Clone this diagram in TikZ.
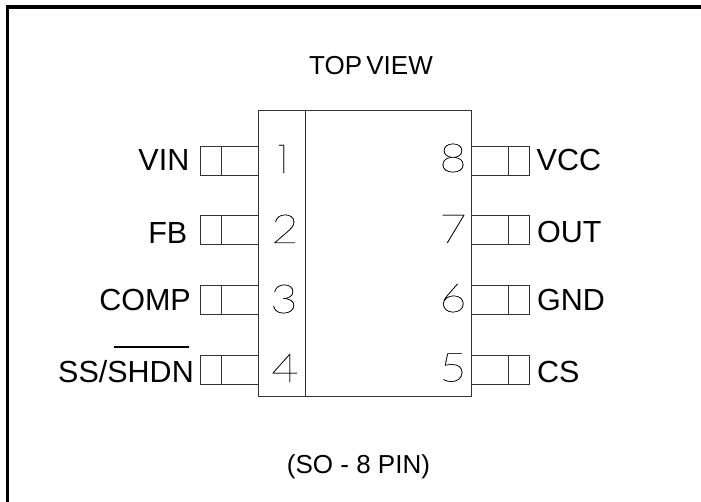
\documentclass[tikz,border=0pt]{standalone}
\usepackage{fontspec}
\setmainfont{Liberation Sans}
\newfontfamily\thinfont[FakeStretch=1.18,FakeBold=0.25]{Lato Hairline}
\newfontfamily\onefont[FakeBold=0.1]{Poppins Thin}
\tikzset{
  frameline/.style={line width=3.4pt,black},
  pkgline/.style={line width=0.8pt,black!80},
  pinline/.style={line width=0.8pt,black!80},
  barline/.style={line width=2.2pt,black},
  lbl/.style={inner sep=0pt,font=\fontsize{30.5pt}{32pt}\selectfont,text=black,anchor=base},
  lblr/.style={lbl,anchor=base east},
  lbll/.style={lbl,anchor=base west},
  num/.style={inner sep=0pt,anchor=base,font=\fontsize{40pt}{40pt}\thinfont},
  caption/.style={inner sep=0pt,anchor=base,font=\fontsize{26pt}{28pt}\selectfont}
}
\begin{document}
\begin{tikzpicture}[x=1pt,y=-1pt]
\useasboundingbox (0,0) rectangle (701,502);
\fill[white] (0,0) rectangle (701,502);
\draw[frameline] (7.7,502) -- (7.7,7) -- (701,7);
\node[caption] (top) at (371,75) {TOP\kern-3pt\ VIEW};
\node[caption] (bot) at (358.5,473) {(SO - 8 PIN)};
\draw[pkgline] (258.3,110) rectangle (471.7,396);
\draw[pkgline] (305,110) -- (305,396);
\foreach \y in {146,215.5,285.3,355}{
  \draw[pinline] (258.3,\y) -- (200.5,\y) -- (200.5,\y+29.3) -- (258.3,\y+29.3);
  \draw[pinline] (221.7,\y) -- (221.7,\y+29.3);
  \draw[pinline] (471.7,\y) -- (529.3,\y) -- (529.3,\y+29.3) -- (471.7,\y+29.3);
  \draw[pinline] (508.3,\y) -- (508.3,\y+29.3);
}
\node[lblr] (vin) at (189.5,170.5) {VIN};
\node[lblr] (fb) at (187.5,243.5) {FB};
\node[lblr] (comp) at (191,311) {COMP};
\node[lblr] (shdn) at (194,382.5) {SS/SHDN};
\draw[barline] (114.3,347.3) -- (188.7,347.3);
\node[lbll] (vcc) at (536.5,170.5) {VCC};
\node[lbll] (out) at (537,243) {OUT};
\node[lbll] (gnd) at (537,311) {GND};
\node[lbll] (cs) at (537,382.5) {CS};
\node[num,font=\fontsize{40pt}{40pt}\onefont] (n1) at (283,173) {1};
\node[num] (n2) at (285,243) {2};
\node[num] (n3) at (284,313) {3};
\node[num] (n4) at (285,382) {4};
\node[num] (n8) at (453,172) {8};
\node[num] (n7) at (453,243) {7};
\node[num] (n6) at (453,312) {6};
\node[num] (n5) at (453,381.5) {5};
\end{tikzpicture}
\end{document}
